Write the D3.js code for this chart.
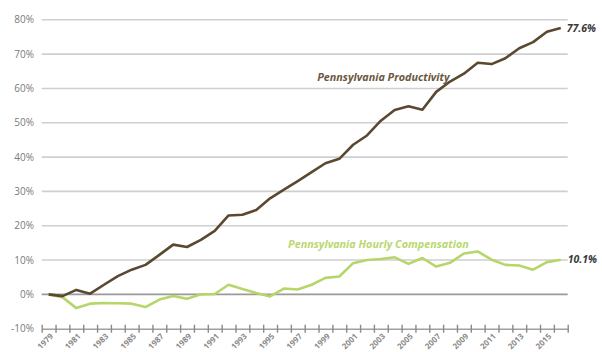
<!DOCTYPE html>
<html><head><meta charset="utf-8">
<script src="https://cdn.jsdelivr.net/npm/d3@7"></script>
<style>
html,body{margin:0;padding:0;background:#fff;}
svg{display:block;}
</style></head>
<body>
<svg id="chart" width="602" height="352"></svg>
<script>
const years = d3.range(1979, 2017);
const productivity = [0, -0.5, 1.3, 0.2, 2.8, 5.3, 7.2, 8.6, 11.5, 14.5, 13.8, 15.9, 18.5, 23.0, 23.2, 24.6, 28.0, 30.5, 33.0, 35.6, 38.2, 39.5, 43.6, 46.3, 50.6, 53.7, 54.8, 53.8, 59.0, 62.0, 64.3, 67.5, 67.1, 68.8, 71.7, 73.5, 76.5, 77.6];
const compensation = [0, -0.8, -4.0, -2.7, -2.5, -2.6, -2.7, -3.7, -1.5, -0.5, -1.3, 0, 0.1, 2.8, 1.6, 0.4, -0.6, 1.7, 1.4, 2.8, 4.8, 5.2, 9.1, 10.0, 10.3, 10.8, 8.9, 10.6, 8.1, 9.2, 11.9, 12.5, 10.1, 8.6, 8.4, 7.2, 9.4, 10.1];
const yTicks = [-10, 0, 10, 20, 30, 40, 50, 60, 70, 80];
const xLabelYears = d3.range(1979, 2016, 2);
const seriesNames = ["Pennsylvania Productivity", "Pennsylvania Hourly Compensation"];
const endLabels = ["77.6%", "10.1%"];

const svg = d3.select("#chart");
const x = d3.scaleLinear().domain([1978.5, 2016.5]).range([41.7, 567.7]);
const y = d3.scaleLinear().domain([-10, 80]).range([328.7, 19.8]);

// gridlines
svg.append("g").selectAll("line").data(yTicks.filter(d => d > -10)).join("line")
  .attr("x1", x.range()[0]).attr("x2", x.range()[1])
  .attr("y1", d => y(d)).attr("y2", d => y(d))
  .attr("stroke", d => d === 0 ? "#9a9a9a" : "#cfcfcf")
  .attr("stroke-width", 1.6);

// y labels
svg.append("g").selectAll("text").data(yTicks).join("text")
  .attr("x", 34).attr("y", d => y(d)).attr("dy", "0.35em")
  .attr("text-anchor", "end")
  .attr("font-family", "Open Sans, sans-serif").attr("font-size", 10)
  .attr("fill", "#7a7a7a").text(d => d + "%");

// x axis with year ticks at band boundaries
const xAxis = d3.axisBottom(x)
  .tickValues(d3.range(1978.5, 2017, 1))
  .tickSizeInner(8).tickSizeOuter(0).tickFormat("");
const gx = svg.append("g").attr("transform", `translate(0,${y(-10) - 4})`).call(xAxis);
gx.select(".domain").attr("stroke", "#a0a0a0").attr("stroke-width", 1.4).attr("transform", "translate(0,4)");
gx.selectAll(".tick line").attr("stroke", "#8a8a8a").attr("stroke-width", 1.4);

svg.append("g").selectAll("text").data(xLabelYears).join("text")
  .attr("transform", d => `translate(${x(d) + 3},${y(-10) + 6}) rotate(-45)`)
  .attr("text-anchor", "end").attr("dy", "0.35em")
  .attr("font-family", "Open Sans, sans-serif").attr("font-size", 8).attr("font-weight", "bold")
  .attr("fill", "#8a8a8a").text(d => d);

const line = d3.line().x((d, i) => x(years[i])).y(d => y(d));

svg.append("path").datum(compensation).attr("d", line)
  .attr("fill", "none").attr("stroke", "#b6d66a").attr("stroke-width", 2.6).attr("stroke-linejoin", "round");
svg.append("path").datum(productivity).attr("d", line)
  .attr("fill", "none").attr("stroke", "#5b4831").attr("stroke-width", 2.6).attr("stroke-linejoin", "round");

// series labels
svg.append("text").attr("x", x(1998.4)).attr("y", y(62.2))
  .attr("font-family", "Open Sans, sans-serif").attr("font-size", 10.8).attr("font-weight", "bold").attr("font-style", "italic")
  .attr("fill", "#6b5840").text(seriesNames[0]);
svg.append("text").attr("x", x(1996.3)).attr("y", y(13.5))
  .attr("font-family", "Open Sans, sans-serif").attr("font-size", 10.8).attr("font-weight", "bold").attr("font-style", "italic")
  .attr("fill", "#b9d870").text(seriesNames[1]);

// end labels
svg.append("text").attr("x", x(2016) + 6).attr("y", y(productivity[productivity.length - 1])).attr("dy", "0.35em")
  .attr("font-family", "Open Sans, sans-serif").attr("font-size", 10.5).attr("font-weight", "bold").attr("font-style", "italic")
  .attr("fill", "#3a3a3a").text(endLabels[0]);
svg.append("text").attr("x", x(2016) + 7).attr("y", y(compensation[compensation.length - 1])).attr("dy", "0.35em")
  .attr("font-family", "Open Sans, sans-serif").attr("font-size", 10.5).attr("font-weight", "bold").attr("font-style", "italic")
  .attr("fill", "#3a3a3a").text(endLabels[1]);
</script>
</body></html>
